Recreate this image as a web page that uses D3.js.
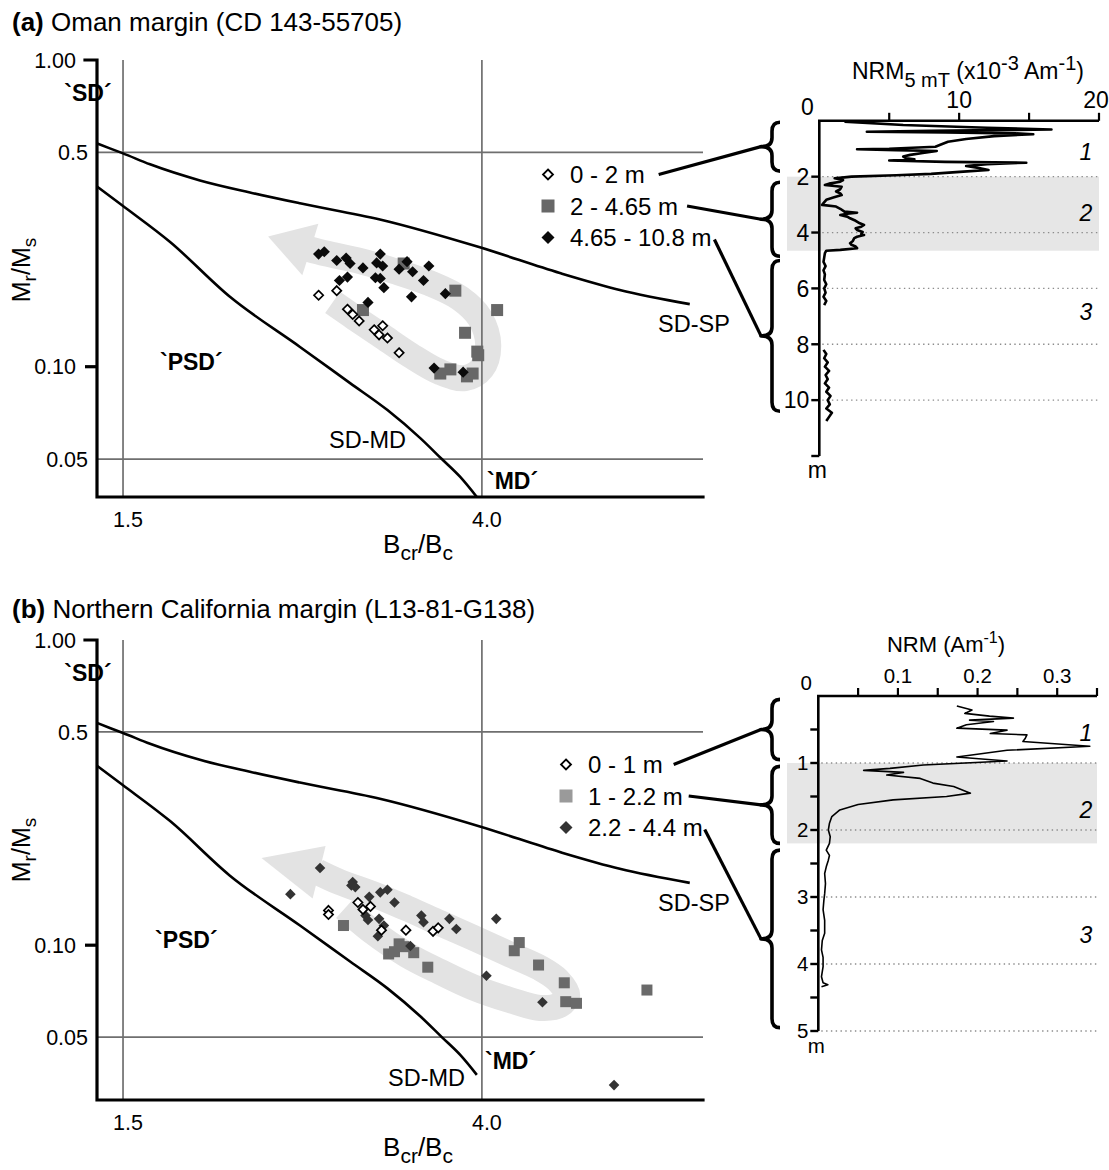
<!DOCTYPE html>
<html><head><meta charset="utf-8">
<script src="https://cdn.jsdelivr.net/npm/d3@7/dist/d3.min.js"></script>
<style>
html,body{margin:0;padding:0;background:#fff;}
svg text{font-family:"Liberation Sans",Arial,Helvetica,sans-serif;fill:#000;}
</style></head>
<body>
<svg id="chart" width="1109" height="1170"></svg>
<script>
// ================= DATA =================
// Day plot axes (log-log)
const dayXTicks = [1.5, 4.0];
const dayXTickLabels = ["1.5", "4.0"];
const dayYTicks = [1.00, 0.5, 0.10, 0.05];
const dayYTickLabels = ["1.00", "0.5", "0.10", "0.05"];
const dayYTickMarks = [true, false, true, false];
const dayGridX = [1.5, 4.0];
const dayGridY = [0.5, 0.05];

// theoretical mixing curves [Bcr/Bc, Mr/Ms]
const sdSpCurve = [[1.397,0.535],[1.447,0.515],[1.5,0.496],[1.615,0.457],[1.851,0.405],[2.122,0.370],[2.433,0.341],[3.027,0.302],[3.978,0.245],[4.95,0.202],[5.83,0.178],[7.06,0.160]];
const sdMdCurve = [[1.397,0.387],[1.496,0.336],[1.706,0.255],[2.009,0.169],[2.433,0.116],[2.79,0.0884],[3.09,0.0722],[3.38,0.0585],[3.585,0.05],[3.77,0.0437],[3.945,0.0376]];

// ---- panel (a) Oman margin ----
const aLegend = ["0 - 2 m", "2 - 4.65 m", "4.65 - 10.8 m"];
const aOpen = [[2.56,0.171],[2.69,0.177],[2.77,0.154],[2.81,0.148],[2.86,0.141],[2.98,0.132],[3.05,0.136],[3.02,0.127],[3.09,0.124],[3.19,0.111]];
const aSquare = [[3.23,0.217],[2.89,0.153],[3.72,0.177],[4.17,0.153],[3.82,0.129],[3.95,0.112],[3.96,0.109],[3.67,0.098],[3.57,0.095],[3.84,0.093],[3.90,0.095]];
const aDiamond = [[2.56,0.233],[2.60,0.237],[2.69,0.222],[2.76,0.226],[2.79,0.217],[2.89,0.210],[3.03,0.233],[3.00,0.218],[3.05,0.213],[3.26,0.220],[3.19,0.208],[3.31,0.204],[3.46,0.213],[2.71,0.191],[2.77,0.196],[2.99,0.195],[3.03,0.194],[3.06,0.181],[3.41,0.191],[3.30,0.169],[3.62,0.173],[2.93,0.162],[3.51,0.099],[3.80,0.096]];
const aBand = [[2.66,0.162],[2.83,0.144],[3.03,0.127],[3.29,0.109],[3.57,0.0960],[3.82,0.0918],[4.0,0.0989],[4.07,0.1175],[3.98,0.144],[3.77,0.167],[3.47,0.187],[3.15,0.205],[2.87,0.221],[2.61,0.234],[2.49,0.242]];
const aBandTip = [2.23, 0.266];
// NRM 5mT profile [depth m, NRM x1e-3 A/m]; NaN marks the core gap
const aNrm = [[0.03,1.8],[0.15,6],[0.25,12],[0.31,16.6],[0.36,8],[0.39,3.4],[0.42,9],[0.45,14],[0.48,15.3],[0.55,12.5],[0.65,10.5],[0.75,9.2],[0.85,8.7],[0.93,8.3],[1.0,5.0],[1.02,2.7],[1.05,5.5],[1.08,8.4],[1.15,7.4],[1.22,6.5],[1.28,6.0],[1.34,6.2],[1.38,6.8],[1.42,5.0],[1.47,9.0],[1.50,14.8],[1.55,12.0],[1.62,10.5],[1.70,11.5],[1.76,12.1],[1.82,10.3],[1.90,8.0],[1.95,5.5],[2.0,2.3],[2.06,1.1],[2.12,1.7],[2.18,1.5],[2.25,0.7],[2.30,0.4],[2.36,1.6],[2.45,1.5],[2.53,1.2],[2.60,1.5],[2.66,1.6],[2.75,1.0],[2.83,0.5],[2.95,0.3],[3.01,0.2],[3.07,1.2],[3.15,1.5],[3.25,1.8],[3.29,2.7],[3.33,2.0],[3.37,1.5],[3.43,2.0],[3.49,2.2],[3.58,2.6],[3.67,2.9],[3.73,3.2],[3.79,3.0],[3.85,2.6],[3.91,2.7],[3.98,3.1],[4.05,3.0],[4.09,3.2],[4.15,2.7],[4.20,2.5],[4.30,2.4],[4.38,2.2],[4.44,2.3],[4.50,2.6],[4.56,2.7],[4.62,1.5],[4.65,0.5],[4.74,0.4],[4.9,0.35],[5.05,0.3],[5.2,0.45],[5.35,0.3],[5.5,0.4],[5.7,0.35],[5.85,0.5],[6.0,0.35],[6.15,0.45],[6.3,0.3],[6.45,0.5],[6.6,0.35],[7.4,NaN],[8.2,0.3],[8.35,0.5],[8.5,0.35],[8.65,0.6],[8.8,0.4],[8.95,0.7],[9.1,0.45],[9.25,0.6],[9.4,0.4],[9.55,0.7],[9.7,0.5],[9.85,0.8],[10.0,0.6],[10.15,0.75],[10.3,0.5],[10.45,0.9],[10.6,0.7],[10.75,0.5]];
const aNrmTicks = [5, 10, 15, 20];
const aNrmTickLabels = ["", "10", "", "20"];
const aDepthTicks = [2, 4, 6, 8, 10, 12];
const aDepthTickLabels = ["2", "4", "6", "8", "10", ""];
const aDotted = [2, 4, 6, 8, 10];
const aShade = [2, 4.65];
const aUnits = ["1", "2", "3"];
const aUnitDepths = [1.12, 3.3, 6.84];
const aBraces = [[0.05,1.8],[2.2,4.85],[5.0,10.4]];

// ---- panel (b) Northern California margin ----
const bLegend = ["0 - 1 m", "1 - 2.2 m", "2.2 - 4.4 m"];
const bOpen = [[2.63,0.130],[2.63,0.126],[2.85,0.138],[2.89,0.131],[2.95,0.134],[3.04,0.112],[3.25,0.112],[3.50,0.111],[3.55,0.114]];
const bSquare = [[2.74,0.116],[3.10,0.0936],[3.15,0.0952],[3.19,0.101],[3.23,0.0989],[3.32,0.0945],[3.45,0.0847],[4.43,0.102],[4.37,0.0959],[4.67,0.0861],[5.01,0.0753],[5.03,0.0653],[5.18,0.0645],[6.28,0.0713]];
const bDiamond = [[2.57,0.179],[2.37,0.147],[2.81,0.161],[2.80,0.157],[2.83,0.155],[2.94,0.144],[3.03,0.149],[3.09,0.152],[3.15,0.138],[2.91,0.125],[2.93,0.121],[3.02,0.122],[3.06,0.116],[3.01,0.107],[3.39,0.125],[3.41,0.119],[3.66,0.122],[3.73,0.113],[3.29,0.0994],[4.16,0.122],[4.05,0.0794],[4.72,0.065],[5.74,0.0348]];
const bBand = [[2.75,0.132],[2.95,0.112],[3.26,0.0929],[3.57,0.0817],[3.90,0.0729],[4.32,0.0661],[4.69,0.0623],[4.95,0.0637],[5.05,0.0686],[4.92,0.0769],[4.69,0.0842],[4.28,0.0943],[3.90,0.106],[3.57,0.118],[3.26,0.132],[2.99,0.146],[2.71,0.161],[2.55,0.174]];
const bBandTip = [2.19, 0.193];
// NRM profile [depth m, NRM A/m]
const bNrm = [[0.15,0.174],[0.21,0.193],[0.26,0.184],[0.30,0.215],[0.33,0.245],[0.36,0.19],[0.38,0.22],[0.43,0.186],[0.48,0.174],[0.51,0.237],[0.56,0.216],[0.58,0.262],[0.63,0.26],[0.68,0.257],[0.75,0.341],[0.81,0.237],[0.91,0.174],[0.97,0.237],[1.03,0.132],[1.08,0.09],[1.11,0.057],[1.14,0.107],[1.18,0.086],[1.23,0.128],[1.30,0.144],[1.35,0.170],[1.45,0.191],[1.50,0.161],[1.55,0.094],[1.62,0.05],[1.70,0.027],[1.80,0.017],[1.90,0.014],[2.0,0.0126],[2.1,0.015],[2.2,0.014],[2.3,0.01],[2.38,0.014],[2.45,0.0126],[2.55,0.01],[2.65,0.008],[2.8,0.009],[2.95,0.008],[3.05,0.007],[3.19,0.006],[3.35,0.008],[3.54,0.008],[3.65,0.005],[3.79,0.004],[3.9,0.006],[4.04,0.006],[4.19,0.004],[4.28,0.006],[4.31,0.012],[4.34,0.004]];
const bNrmTicks = [0.05, 0.1, 0.15, 0.2, 0.25, 0.3, 0.35];
const bNrmTickLabels = ["", "0.1", "", "0.2", "", "0.3", ""];
const bDepthTicks = [0.5, 1, 1.5, 2, 2.5, 3, 3.5, 4, 4.5, 5];
const bDepthTickLabels = ["", "1", "", "2", "", "3", "", "4", "", "5"];
const bDotted = [1, 2, 3, 4, 5];
const bShade = [1, 2.2];
const bUnits = ["1", "2", "3"];
const bUnitDepths = [0.55, 1.7, 3.57];
const bBraces = [[0.05,0.95],[1.05,2.2],[2.3,4.95]];

// ================= DRAWING =================
const svg = d3.select("#chart");

function rich(parent, x, y, parts, o) {
  const t = parent.append("text").attr("x", x).attr("y", y)
    .attr("font-size", o.size).attr("text-anchor", o.anchor || "start");
  let shift = 0;
  parts.forEach(p => {
    const target = p.s === "sub" ? o.sub : p.s === "sup" ? -o.sup : 0;
    const ts = t.append("tspan").text(p.t);
    if (target - shift !== 0) ts.attr("dy", target - shift);
    if (p.s) ts.attr("font-size", o.small);
    if (p.w) ts.attr("font-weight", p.w);
    shift = target;
  });
  return t;
}
function diamond(cx, cy, r) { return `M${cx},${cy - r}L${cx + r},${cy}L${cx},${cy + r}L${cx - r},${cy}Z`; }

function drawPanel(c, D) {
  const g = svg.append("g");
  rich(g, 12, c.titleY, [{t: c.tag, w: "bold"}, {t: " " + c.title}], {size: 26});

  const x = d3.scaleLog().domain([1.397, 7.32]).range([97, 703]);
  const y = d3.scaleLog().domain([c.yMin, 1]).range([c.bottom, c.top]);

  // gray arrow band
  const bandLine = d3.line().x(p => x(p[0])).y(p => y(p[1])).curve(d3.curveCatmullRom.alpha(0.5));
  g.append("path").attr("d", bandLine(D.band)).attr("fill", "none")
    .attr("stroke", "#e3e3e3").attr("stroke-width", 26).attr("stroke-linejoin", "round");
  const last = D.band[D.band.length - 1];
  const bx = x(last[0]), by = y(last[1]), tx = x(D.tip[0]), ty = y(D.tip[1]);
  const L = Math.hypot(tx - bx, ty - by), ux = (tx - bx) / L, uy = (ty - by) / L;
  const nx = -uy, ny = ux, hw = 27, bb = 2;
  g.append("path").attr("d", `M${tx},${ty}L${bx - ux*bb + nx*hw},${by - uy*bb + ny*hw}L${bx - ux*bb - nx*hw},${by - uy*bb - ny*hw}Z`)
    .attr("fill", "#e3e3e3");

  // reference lines
  dayGridX.forEach(v => g.append("line").attr("x1", x(v)).attr("x2", x(v)).attr("y1", c.top).attr("y2", c.bottom)
    .attr("stroke", "#6f6f6f").attr("stroke-width", 1.7));
  dayGridY.forEach(v => g.append("line").attr("x1", 97).attr("x2", 703).attr("y1", y(v)).attr("y2", y(v))
    .attr("stroke", "#6f6f6f").attr("stroke-width", 1.7));

  // axes
  g.append("path").attr("d", `M85,${y(1)}H97V${c.bottom}H703`).attr("fill", "none")
    .attr("stroke", "#000").attr("stroke-width", 3.2).attr("stroke-linecap", "square");
  dayYTicks.forEach((v, i) => {
    if (dayYTickMarks[i] && v !== 1) g.append("line").attr("x1", 85).attr("x2", 97).attr("y1", y(v)).attr("y2", y(v))
      .attr("stroke", "#000").attr("stroke-width", 3.2);
    g.append("text").attr("x", dayYTickMarks[i] ? 76 : 88).attr("y", y(v)).attr("dy", "0.36em")
      .attr("text-anchor", "end").attr("font-size", 21.5).text(dayYTickLabels[i]);
  });
  dayXTicks.forEach((v, i) => g.append("text").attr("x", x(v) + 5).attr("y", c.bottom + 30)
    .attr("text-anchor", "middle").attr("font-size", 21.5).text(dayXTickLabels[i]));

  // axis titles
  rich(g, 418, c.bottom + 56, [{t: "B"}, {t: "cr", s: "sub"}, {t: "/B"}, {t: "c", s: "sub"}],
    {size: 26, small: 21, sub: 7, anchor: "middle"});
  rich(g, 30, c.yLabY, [{t: "M"}, {t: "r", s: "sub"}, {t: "/M"}, {t: "s", s: "sub"}],
    {size: 25, small: 19, sub: 6, anchor: "middle"}).attr("transform", `rotate(-90,30,${c.yLabY})`);

  // curves
  const cl = d3.line().x(p => x(p[0])).y(p => y(p[1])).curve(d3.curveMonotoneX);
  [sdSpCurve, sdMdCurve].forEach(cv => g.append("path").attr("d", cl(cv)).attr("fill", "none")
    .attr("stroke", "#000").attr("stroke-width", 2.6));

  // points
  D.square.forEach(p => g.append("rect").attr("x", x(p[0]) - c.sq / 2).attr("y", y(p[1]) - c.sq / 2)
    .attr("width", c.sq).attr("height", c.sq).attr("fill", c.sqColor));
  D.diamond.forEach(p => g.append("path").attr("d", diamond(x(p[0]), y(p[1]), c.dr)).attr("fill", c.diaColor));
  D.open.forEach(p => g.append("path").attr("d", diamond(x(p[0]), y(p[1]), 4.6)).attr("fill", "#fff")
    .attr("stroke", "#000").attr("stroke-width", 1.7));

  // region labels
  const sdT = g.append("text").attr("x", 88).attr("y", c.top + 33).attr("dy", "0.36em").attr("text-anchor", "middle")
    .attr("font-size", 23).attr("font-weight", "bold").text("`SD\u00B4");
  const bbx = sdT.node().getBBox();
  g.insert("rect", "text").attr("x", 90).attr("y", bbx.y + 2).attr("width", 12).attr("height", bbx.height - 4).attr("fill", "#fff");
  const lab = (t, px, py, bold) => g.append("text").attr("x", px).attr("y", py).attr("dy", "0.36em")
    .attr("font-size", bold ? 23 : 23.5).attr("font-weight", bold ? "bold" : "normal").text(t);
  lab("`PSD\u00B4", c.psd[0], c.psd[1], true);
  lab("`MD\u00B4", c.md[0], c.md[1], true);
  lab("SD-SP", c.sdsp[0], c.sdsp[1], false);
  lab("SD-MD", c.sdmd[0], c.sdmd[1], false);

  // ---------- NRM profile ----------
  const xv = d3.scaleLinear().domain(c.vDom).range([c.rx0, c.rx1]);
  const yd = d3.scaleLinear().domain(c.dDom).range([c.ry0, c.ry1]);
  g.append("rect").attr("x", 787).attr("width", c.rx1 - 787).attr("y", yd(D.shade[0]))
    .attr("height", yd(D.shade[1]) - yd(D.shade[0])).attr("fill", "#e6e6e6");
  D.dotted.forEach(v => g.append("line").attr("x1", c.rx0 + 3).attr("x2", c.rx1).attr("y1", yd(v)).attr("y2", yd(v))
    .attr("stroke", "#8c8c8c").attr("stroke-width", 1.3).attr("stroke-dasharray", "1.4,3.4"));
  const nl = d3.line().defined(p => !isNaN(p[1])).x(p => xv(p[1])).y(p => yd(p[0]));
  g.append("path").attr("d", nl(D.nrm)).attr("fill", "none").attr("stroke", "#000")
    .attr("stroke-width", c.nrmW).attr("stroke-linejoin", "round");
  g.append("path").attr("d", `M${c.rx1},${c.ry0}H${c.rx0}V${c.ry1}`).attr("fill", "none")
    .attr("stroke", "#000").attr("stroke-width", 2.6);
  D.vTicks.forEach((v, i) => {
    g.append("line").attr("x1", xv(v)).attr("x2", xv(v)).attr("y1", c.ry0).attr("y2", c.ry0 - 8)
      .attr("stroke", "#000").attr("stroke-width", 2.2);
    if (D.vLabels[i]) g.append("text").attr("x", xv(v) - (i === D.vTicks.length - 1 ? 3 : 0)).attr("y", c.ry0 - 13)
      .attr("text-anchor", "middle").attr("font-size", c.rFont).text(D.vLabels[i]);
  });
  D.dTicks.forEach((v, i) => {
    g.append("line").attr("x1", c.rx0 - 8).attr("x2", c.rx0).attr("y1", yd(v)).attr("y2", yd(v))
      .attr("stroke", "#000").attr("stroke-width", 2.4);
    if (D.dLabels[i]) g.append("text").attr("x", c.rx0 - 10).attr("y", yd(v)).attr("dy", "0.36em")
      .attr("text-anchor", "end").attr("font-size", c.rFont).text(D.dLabels[i]);
  });
  g.append("text").attr("x", c.rx0 - 12).attr("y", c.ry0 - 6).attr("text-anchor", "middle")
    .attr("font-size", c.rFont).text("0");
  g.append("text").attr("x", c.rx0 - 2).attr("y", c.ry1 + 22).attr("text-anchor", "middle")
    .attr("font-size", c.rFont).text("m");
  D.units.forEach((u, i) => g.append("text").attr("x", 1086).attr("y", yd(D.unitDepths[i])).attr("dy", "0.36em")
    .attr("text-anchor", "middle").attr("font-size", 23).attr("font-style", "italic").text(u));
  if (c.tag === "(a)") {
    rich(g, 852, 79, [{t: "NRM"}, {t: "5 mT", s: "sub"}, {t: " (x10"}, {t: "-3", s: "sup"}, {t: " Am"}, {t: "-1", s: "sup"}, {t: ")"}],
      {size: 23, small: 20, sub: 8, sup: 9});
  } else {
    rich(g, 946, 652, [{t: "NRM (Am"}, {t: "-1", s: "sup"}, {t: ")"}],
      {size: 22, small: 16, sub: 6, sup: 9, anchor: "middle"});
  }

  // braces
  const tipX = 761, spX = 772, endX = 780;
  const tips = D.braces.map(br => {
    const y0 = yd(br[0]), y1 = yd(br[1]), ym = (y0 + y1) / 2, r = 9;
    g.append("path").attr("d",
      `M${endX},${y0}Q${spX},${y0} ${spX},${y0 + r}L${spX},${ym - r}Q${spX},${ym} ${tipX},${ym}` +
      `Q${spX},${ym} ${spX},${ym + r}L${spX},${y1 - r}Q${spX},${y1} ${endX},${y1}`)
      .attr("fill", "none").attr("stroke", "#000").attr("stroke-width", 3.6).attr("stroke-linejoin", "round");
    return [tipX, ym];
  });

  // legend + leader lines
  const rowY = i => c.legY + i * 31.5;
  [0, 1, 2].forEach(i => {
    const mx = c.legX, my = rowY(i);
    if (i === 0) g.append("path").attr("d", diamond(mx, my, 5)).attr("fill", "#fff").attr("stroke", "#000").attr("stroke-width", 1.8);
    if (i === 1) g.append("rect").attr("x", mx - 6.5).attr("y", my - 6.5).attr("width", 13).attr("height", 13).attr("fill", c.legSq);
    if (i === 2) g.append("path").attr("d", diamond(mx, my, 6.5)).attr("fill", c.diaColor);
    const t = g.append("text").attr("x", mx + 22).attr("y", my).attr("dy", "0.36em").attr("font-size", 24).text(D.legend[i]);
    const endTx = mx + 22 + t.node().getComputedTextLength() + c.gaps[i];
    g.append("line").attr("x1", endTx).attr("y1", my + (i === 2 ? 2 : 0)).attr("x2", tips[i][0]).attr("y2", tips[i][1])
      .attr("stroke", "#000").attr("stroke-width", 3.2);
  });
}

drawPanel({
  tag: "(a)", title: "Oman margin (CD 143-55705)", titleY: 31,
  top: 60, bottom: 497, yMin: 0.0376, yLabY: 270,
  sq: 12, dr: 5.6, sqColor: "#676767", diaColor: "#0a0a0a", legSq: "#676767",
  psd: [160, 362], md: [487, 481], sdsp: [658, 324], sdmd: [329, 440],
  vDom: [0, 20], dDom: [0, 12], rx0: 819.3, rx1: 1099, ry0: 120.8, ry1: 456, nrmW: 2.6, rFont: 23,
  legX: 548, legY: 174.5, gaps: [14, 9, 3]
}, {
  open: aOpen, square: aSquare, diamond: aDiamond, band: aBand, tip: aBandTip, legend: aLegend,
  nrm: aNrm, vTicks: aNrmTicks, vLabels: aNrmTickLabels, dTicks: aDepthTicks, dLabels: aDepthTickLabels,
  dotted: aDotted, shade: aShade, units: aUnits, unitDepths: aUnitDepths, braces: aBraces
});

drawPanel({
  tag: "(b)", title: "Northern California margin (L13-81-G138)", titleY: 618,
  top: 640, bottom: 1100, yMin: 0.0311, yLabY: 850,
  sq: 11, dr: 5.3, sqColor: "#6a6a6a", diaColor: "#333", legSq: "#9a9a9a",
  psd: [155, 940], md: [485, 1061], sdsp: [658, 903], sdmd: [388, 1078],
  vDom: [0, 0.35], dDom: [0, 5], rx0: 818.3, rx1: 1097, ry0: 696, ry1: 1031, nrmW: 1.6, rFont: 20.5,
  legX: 566, legY: 764.5, gaps: [11, 6, 2]
}, {
  open: bOpen, square: bSquare, diamond: bDiamond, band: bBand, tip: bBandTip, legend: bLegend,
  nrm: bNrm, vTicks: bNrmTicks, vLabels: bNrmTickLabels, dTicks: bDepthTicks, dLabels: bDepthTickLabels,
  dotted: bDotted, shade: bShade, units: bUnits, unitDepths: bUnitDepths, braces: bBraces
});
</script>
</body></html>
